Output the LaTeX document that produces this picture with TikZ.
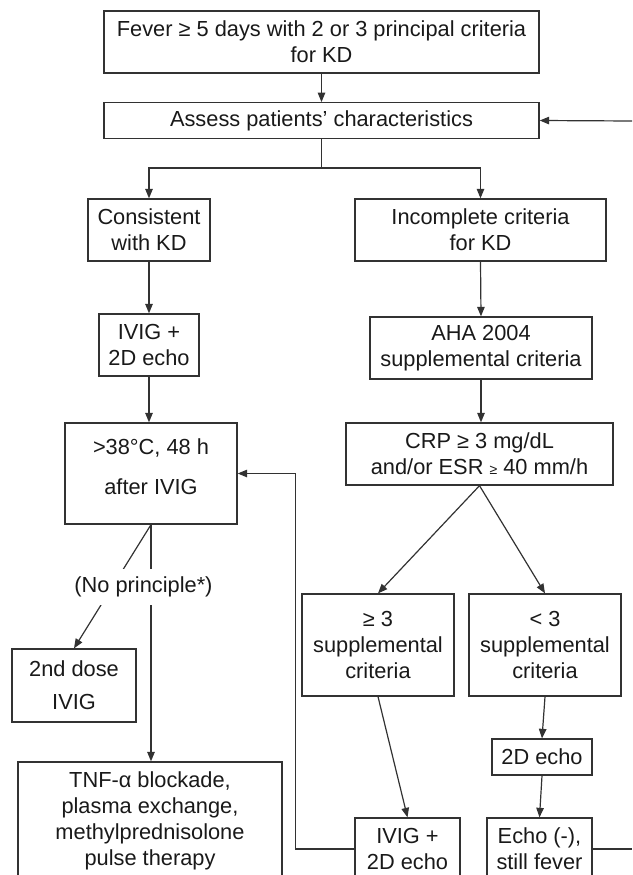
\documentclass[tikz,border=0pt]{standalone}
\usepackage{fontspec}
\setmainfont{Liberation Sans}
\usetikzlibrary{arrows.meta}
\definecolor{linec}{RGB}{50,50,50}
\definecolor{textc}{RGB}{25,25,25}
\begin{document}
\begin{tikzpicture}[x=1pt,y=-1pt,
  font=\fontsize{21.8}{26}\selectfont,
  box/.style={draw=linec, line width=1.3pt, align=center, inner sep=0pt, text=textc},
  txt/.style={align=center, inner sep=0pt, text=textc},
  arr/.style={draw=linec, line width=1.2pt, -{Triangle[length=9.5pt,width=7.5pt]}},
  ln/.style={draw=linec, line width=1.2pt}]
\useasboundingbox (0,0) rectangle (632,875);
\clip (0,0) rectangle (632,875);

% boxes
\node[box, minimum width=435pt, minimum height=62pt] (fever) at (321.5,42) {Fever ≥ 5 days with 2 or 3 principal criteria\\for KD};
\node[box, minimum width=435pt, minimum height=35.5pt] (assess) at (321.5,120.5) {Assess patients’ characteristics};
\node[box, minimum width=122pt, minimum height=62pt] (consistent) at (149,230) {Consistent\\with KD};
\node[box, minimum width=251pt, minimum height=62pt] (incomplete) at (480.5,230) {Incomplete criteria\\for KD};
\node[box, minimum width=100pt, minimum height=62pt] (ivigA) at (149,345) {IVIG +\\2D echo};
\node[box, minimum width=222pt, minimum height=62pt] (aha) at (481,348) {AHA 2004\\supplemental criteria};
\node[box, minimum width=172pt, minimum height=101pt] (hot) at (151,473.5) {};
\node[txt] (hottext) at (151,467) {>38°C, 48 h\\[14pt]after IVIG};
\node[box, minimum width=267pt, minimum height=62pt] (crp) at (479.5,454) {CRP ≥ 3 mg/dL\\and/or ESR {\fontsize{14}{14}\selectfont ≥} 40 mm/h};
\node[box, minimum width=152pt, minimum height=102pt] (geA) at (378,645) {≥ 3\\supplemental\\criteria};
\node[box, minimum width=152pt, minimum height=102pt] (ltA) at (545,645) {< 3\\supplemental\\criteria};
\node[box, minimum width=124pt, minimum height=73pt] (doseB) at (74,685.5) {2nd dose\\[7pt]IVIG};
\node[box, minimum width=264pt, minimum height=118pt] (tnf) at (150,821) {TNF-α blockade,\\plasma exchange,\\methylprednisolone\\pulse therapy};
\node[box, minimum width=105pt, minimum height=62pt] (ivigB) at (407.5,849) {IVIG +\\2D echo};
\node[box, minimum width=100pt, minimum height=36pt] (echoA) at (542,757) {2D echo};
\node[box, minimum width=105pt, minimum height=62pt] (echoneg) at (539.5,849) {Echo (-),\\still fever};

% free ends
\coordinate (rin) at (632,121);
\coordinate (rout) at (632,849);
\coordinate (split) at (323,168);

% connectors
\draw[arr] (fever.south) -- (assess.north);
\draw[arr] (rin) -- (assess.east);
\draw[ln] (assess.south) -- (assess.south |- split);
\draw[arr] (assess.south |- split) -| (consistent.north);
\draw[arr] (assess.south |- split) -| (incomplete.north);
\draw[arr] (consistent.south) -- (ivigA.north);
\draw[arr] (ivigA.south) -- (ivigA.south |- hot.north);
\draw[arr] (incomplete.south) -- (aha.north);
\draw[arr] (aha.south) -- (aha.south |- crp.north);
\draw[arr] (crp.south) -- (geA.north);
\draw[arr] (crp.south) -- (ltA.north);
\draw[arr] (geA.south) -- (ivigB.north);
\draw[arr] (ltA.south) -- (echoA.north);
\draw[arr] (echoA.south) -- (echoneg.north);
\draw[arr] (ivigB.west) -- ++(-59,0) |- (hot.east);
\draw[ln] (echoneg.east) -- (rout);
\draw[arr] (hot.south) -- (doseB.north);
\draw[arr] (hot.south) -- (hot.south |- tnf.north);
\node[txt, fill=white, inner xsep=2pt, inner ysep=8pt] (noprin) at (143.5,587) {(No principle*)};
\end{tikzpicture}
\end{document}
